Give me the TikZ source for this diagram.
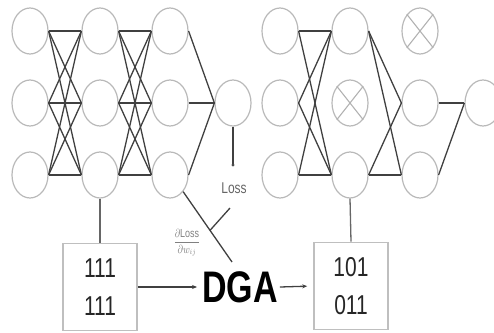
\documentclass[tikz,border=0pt]{standalone}
\usepackage{fontspec}
\setmainfont{Liberation Sans}
\usetikzlibrary{shapes.geometric,calc,arrows.meta}

\tikzset{
	neuron/.style={ellipse, draw=gray!55, line width=1.2pt, minimum width=36pt, minimum height=46pt, inner sep=0pt},
	conn/.style={draw=black!75, line width=1.3pt},
	wbox/.style={draw=gray!50, line width=1.6pt, minimum width=74pt, minimum height=87pt, align=center, text=black!85, font=\fontsize{21}{38}\selectfont},
	flow/.style={conn, -{Stealth[length=5pt,width=4pt]}},
}
\newcommand{\vstr}[1]{\scalebox{1}[1.3]{#1}}

\begin{document}
\begin{tikzpicture}[x=1pt,y=-1pt]
		\useasboundingbox (0,0) rectangle (494,332);
		
		% Draw the neurons of both networks
		\foreach \c/\x in {1/30,2/100,3/170} {
			\foreach \r/\y in {1/31,2/103,3/175} {
				\node[neuron] (a\c\r) at (\x,\y) {};
				\node[neuron] (b\c\r) at (\x+250,\y) {};
			}
		}
		\node[neuron] (ao) at (233,103) {};
		\node[neuron] (bo) at (483,103) {};
		
		% Cross out the dropped neurons
		\foreach \n in {b31,b22} {
			\draw[gray!60, line width=1.1pt] (\n.north west) -- (\n.south east) (\n.north east) -- (\n.south west);
		}
		
		% Full connections of the left network
		\foreach \i in {1,2,3} {
			\foreach \j in {1,2,3} {
				\draw[conn] (a1\i.east) -- (a2\j.west);
				\draw[conn] (a2\i.east) -- (a3\j.west);
			}
			\draw[conn] (a3\i.east) -- (ao.west);
		}
		
		% Remaining connections of the right network
		\foreach \i in {1,2,3} {
			\foreach \j in {1,3} {
				\draw[conn] (b1\i.east) -- (b2\j.west);
			}
		}
		\foreach \i in {1,3} {
			\foreach \j in {2,3} {
				\draw[conn] (b2\i.east) -- (b3\j.west);
			}
		}
		\foreach \i in {2,3} {
			\draw[conn] (b3\i.east) -- (bo.west);
		}
		
		% Loss
		\coordinate (lossdot) at (233,165);
		\draw[conn] (ao.south) -- (lossdot);
		\fill[black!70] (lossdot) circle (1.6pt);
		\node[font=\fontsize{12}{14}\selectfont, text=black!60] (loss) at (234,188) {\vstr{Loss}};
		
		% Weight masks and DGA
		\node[wbox] (w1) at (100,287) {\vstr{111}\\\vstr{111}};
		\node[wbox] (w2) at (351,286) {\vstr{101}\\\vstr{011}};
		\node[font=\bfseries\fontsize{34}{34}\selectfont, inner sep=2pt] (dga) at (240,287) {\vstr{DGA}};
		\draw[conn, draw=black!60] (a23.south) -- (w1.north);
		\draw[conn, draw=black!60] (b23.south) -- (w2.north);
		\draw[flow, shorten >=3pt] (w1.east) -- (dga.west);
		\draw[flow, shorten >=6pt] (dga.east) -- (w2.west);
		
		% Gradient into DGA
		\coordinate (gin) at (232,262);
		\coordinate (gstart) at (230,208);
		\draw[conn] (a33.south east) -- (gin);
		\coordinate (jn) at ($(a33.south east)!0.55!(gin)$);
		\draw[conn] (gstart) -- (jn);
		\node[font=\fontsize{9}{9}\selectfont, text=gray] (grad) at (187,243) {\vstr{$\displaystyle\frac{\partial \mathrm{Loss}}{\partial w_{ij}}$}};
	\end{tikzpicture}
\end{document}
